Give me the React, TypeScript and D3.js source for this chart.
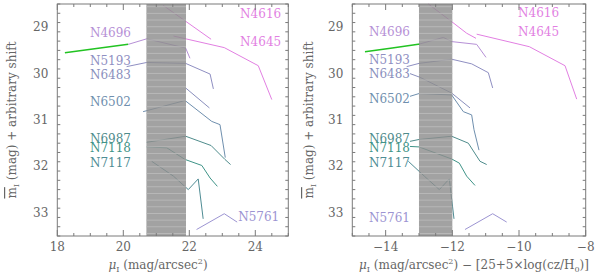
import * as d3 from 'd3';

type Pt = [number, number];

// axes
const leftXDomain: [number, number] = [18, 25];
const rightXDomain: [number, number] = [-15, -8];
const yDomain: [number, number] = [28.5, 33.5];
const leftBand: [number, number] = [20.7, 21.9];
const rightBand: [number, number] = [-13, -12];
const leftXTicks = [18, 20, 22, 24];
const rightXTicks = [-14, -12, -10, -8];
const yTicks = [29, 30, 31, 32, 33];

const names = ['N4616', 'N4645', 'N4696', 'N5193', 'N6483', 'N6502', 'N6987', 'N7118', 'N7117', 'N5761'];
const colors = ['#e27fe2', '#e27fe2', '#b690d6', '#8f8fc2', '#8a8fbd', '#6f8fae', '#4f8c8c', '#3f9488', '#4f8c94', '#9c94d2'];

// left panel profiles (mu_I, mbar_I + shift)
const greenL: Pt[] = [[18.23, 29.55], [19.3, 29.45], [20.15, 29.37]];
const n4616L: Pt[] = [[21.21, 28.53], [22.66, 29.26]];
const n4645L: Pt[] = [[21.52, 29.19], [23.06, 29.44], [24.09, 29.83], [24.5, 30.56]];
const n4696L: Pt[] = [[20.15, 29.37], [20.71, 29.25], [21.89, 29.45], [22.02, 29.67]];
const n5193L: Pt[] = [[20.1, 29.85], [20.71, 29.76], [21.89, 29.78], [22.63, 30.01], [22.73, 30.33]];
const n6483L: Pt[] = [[21.89, 30.31], [22.61, 30.74]];
const n6502L: Pt[] = [[20.6, 30.82], [21.87, 30.58], [22.68, 31.03], [22.93, 31.1], [23.09, 31.81]];
const n6987L: Pt[] = [[20.71, 31.48], [21.89, 31.35], [22.66, 31.55], [23.08, 31.85], [23.25, 31.96]];
const n7118L: Pt[] = [[20.71, 31.58], [21.32, 31.6], [21.87, 31.85], [22.38, 31.98], [22.63, 32.25], [22.85, 32.43]];
const n7117L: Pt[] = [[20.86, 31.89], [21.52, 32.21], [21.97, 32.5], [22.27, 32.27], [22.42, 33.13]];
const n5761L: Pt[] = [[22.22, 33.36], [23.06, 33.02], [23.45, 33.2]];

// right panel profiles (mu_I - distance term)
const greenR: Pt[] = [[-14.62, 29.53], [-13.8, 29.45], [-12.97, 29.36]];
const n4616R: Pt[] = [[-12.72, 28.5], [-12.02, 28.88], [-11.57, 29.13], [-11.29, 29.24]];
const n4645R: Pt[] = [[-11.27, 29.15], [-9.69, 29.42], [-8.62, 29.83], [-8.27, 30.55]];
const n4696R: Pt[] = [[-12.97, 29.36], [-12.27, 29.22], [-12.02, 29.31], [-11.27, 29.37], [-10.99, 29.65]];
const n5193R: Pt[] = [[-13.37, 29.85], [-13.0, 29.78], [-12.02, 29.69], [-11.42, 29.79], [-10.92, 29.98], [-10.79, 30.31]];
const n6483R: Pt[] = [[-13.27, 30.0], [-12.97, 30.08], [-12.02, 30.42], [-11.47, 30.74]];
const n6502R: Pt[] = [[-13.27, 30.49], [-13.0, 30.43], [-12.02, 30.46], [-11.67, 30.82], [-11.42, 30.89], [-11.35, 31.21], [-11.2, 31.65]];
const n6987R: Pt[] = [[-13.27, 31.46], [-13.0, 31.42], [-12.02, 31.35], [-11.52, 31.5], [-11.17, 31.89], [-10.97, 31.96]];
const n7118R: Pt[] = [[-13.27, 31.57], [-13.0, 31.58], [-12.02, 31.84], [-11.79, 31.93], [-11.57, 32.21], [-11.32, 32.41]];
const n7117R: Pt[] = [[-13.32, 31.89], [-12.84, 32.21], [-12.39, 32.5], [-12.09, 32.27], [-11.95, 33.13]];
const n5761R: Pt[] = [[-11.62, 33.36], [-10.79, 33.02], [-10.37, 33.2]];

// label anchors (left edge, vertical middle) in data units
const labelsL: Pt[] = [[23.54, 28.72], [23.54, 29.32], [18.99, 29.12], [18.99, 29.73], [18.99, 30.03], [18.99, 30.61], [18.99, 31.41], [18.99, 31.6], [18.99, 31.93], [23.48, 33.1]];
const labelsR: Pt[] = [[-10.03, 28.69], [-10.03, 29.1], [-14.5, 29.1], [-14.5, 29.7], [-14.5, 30.0], [-14.5, 30.54], [-14.5, 31.41], [-14.5, 31.6], [-14.5, 31.93], [-14.5, 33.12]];

const linesL = [n4616L, n4645L, n4696L, n5193L, n6483L, n6502L, n6987L, n7118L, n7117L, n5761L];
const linesR = [n4616R, n4645R, n4696R, n5193R, n6483R, n6502R, n6987R, n7118R, n7117R, n5761R];

const FONT = 'DejaVu Serif';
const AXIS = '#7a7a7a';
const TXT = '#666';
const top = 4;
const bottom = 236;

function Panel({ x0, x1, xDomain, xTicks, band, lines, green, labels, title, titleX, yTitleX }: any) {
  const x = d3.scaleLinear().domain(xDomain).range([x0, x1]);
  const y = d3.scaleLinear().domain(yDomain).range([top, bottom]);
  const line = d3.line<Pt>().x((d) => x(d[0])).y((d) => y(d[1]));
  const xMinor = d3.range(xDomain[0], xDomain[1] + 0.001, 0.5);
  const yMinor = d3.range(yDomain[0], yDomain[1] + 0.001, 0.2);
  const stripes = d3.range(top + 2.7, bottom, 6.67);
  const yMid = (top + bottom) / 2;

  return (
    <g>
      {/* profiles */}
      <path d={line(green) ?? ''} fill="none" stroke="#22c322" strokeWidth={1.5} />
      {lines.map((pts: Pt[], i: number) => (
        <path key={names[i]} d={line(pts) ?? ''} fill="none" stroke={colors[i]} strokeWidth={1} />
      ))}

      {/* band drawn over the lines, slightly see-through */}
      <rect x={x(band[0])} y={top} width={x(band[1]) - x(band[0])} height={bottom - top} fill="#8e8e8e" opacity={0.82} />
      {stripes.map((s) => (
        <line key={s} x1={x(band[0])} x2={x(band[1])} y1={s} y2={s} stroke="#bdbdbd" strokeWidth={1} opacity={0.85} />
      ))}

      {labels.map((p: Pt, i: number) => (
        <text key={names[i]} x={x(p[0])} y={y(p[1])} dominantBaseline="central" fontFamily={FONT} fontSize={12} fill={colors[i]}>
          {names[i]}
        </text>
      ))}

      {/* frame + ticks */}
      <rect x={x0} y={top} width={x1 - x0} height={bottom - top} fill="none" stroke={AXIS} strokeWidth={1} />
      {xMinor.map((v) => {
        const len = xTicks.includes(Math.round(v * 10) / 10) ? 6 : 3;
        return (
          <g key={'x' + v} stroke={AXIS}>
            <line x1={x(v)} x2={x(v)} y1={bottom} y2={bottom - len} />
            <line x1={x(v)} x2={x(v)} y1={top} y2={top + len} />
          </g>
        );
      })}
      {yMinor.map((v) => {
        const len = yTicks.includes(Math.round(v * 10) / 10) ? 6 : 3;
        return (
          <g key={'y' + v} stroke={AXIS}>
            <line x1={x0} x2={x0 + len} y1={y(v)} y2={y(v)} />
            <line x1={x1} x2={x1 - len} y1={y(v)} y2={y(v)} />
          </g>
        );
      })}
      {xTicks.map((v: number) => (
        <text key={'xl' + v} x={x(v)} y={251} textAnchor="middle" fontFamily={FONT} fontSize={12} fill={TXT}>
          {v < 0 ? `\u2212${-v}` : v}
        </text>
      ))}
      {yTicks.map((v) => (
        <text key={'yl' + v} x={x0 - 9} y={y(v)} textAnchor="end" dominantBaseline="central" fontFamily={FONT} fontSize={12} fill={TXT}>
          {v}
        </text>
      ))}

      {/* y title */}
      <text transform={`translate(${yTitleX},${yMid}) rotate(-90)`} textAnchor="middle" fontFamily={FONT} fontSize={12} fill={TXT}>
        <tspan style={{ textDecoration: 'overline' }}>m</tspan>
        <tspan fontSize={8} dy={3}>I</tspan>
        <tspan dy={-3}> (mag) + arbitrary shift</tspan>
      </text>

      {/* x title */}
      <text x={titleX} y={269} textAnchor="middle" fontFamily={FONT} fontSize={12} fill={TXT}>
        <tspan fontStyle="italic">μ</tspan>
        <tspan fontSize={8} dy={3}>I</tspan>
        <tspan dy={-3}> (mag/arcsec</tspan>
        <tspan fontSize={8} dy={-5}>2</tspan>
        <tspan dy={5}>)</tspan>
        {title}
      </text>
    </g>
  );
}

export default function App() {
  return (
    <svg width={600} height={279} style={{ position: 'absolute', left: 0, top: 0, background: '#fff' }}>
      <Panel
        x0={57.3}
        x1={288.3}
        xDomain={leftXDomain}
        xTicks={leftXTicks}
        band={leftBand}
        lines={linesL}
        green={greenL}
        labels={labelsL}
        title={null}
        titleX={158}
        yTitleX={16}
      />
      <Panel
        x0={352.3}
        x1={585.7}
        xDomain={rightXDomain}
        xTicks={rightXTicks}
        band={rightBand}
        lines={linesR}
        green={greenR}
        labels={labelsR}
        title={
          <>
            <tspan> − [25+5×log(cz/H</tspan>
            <tspan fontSize={8} dy={3}>0</tspan>
            <tspan dy={-3}>)]</tspan>
          </>
        }
        titleX={474}
        yTitleX={313}
      />
    </svg>
  );
}
